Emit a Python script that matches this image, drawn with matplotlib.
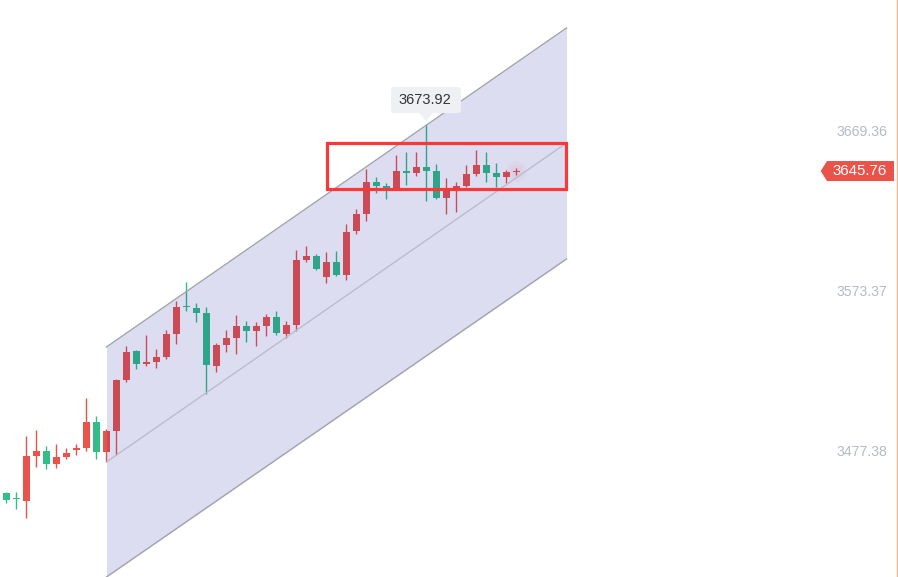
import matplotlib
matplotlib.use("Agg")
import matplotlib.pyplot as plt
from matplotlib.patches import Rectangle, Polygon, FancyBboxPatch
from matplotlib.transforms import IdentityTransform, blended_transform_factory

# OHLC (red = up, green = down)
opens = [3452.6, 3449.0, 3447.8, 3474.8, 3477.8, 3470.0, 3474.2, 3478.4, 3479.6, 3495.2,
         3477.2, 3489.8, 3520.4, 3537.8, 3530.0, 3531.2, 3534.2, 3548.0, 3564.2, 3563.6,
         3560.6, 3528.8, 3541.4, 3545.6, 3552.8, 3549.8, 3552.8, 3558.2, 3548.0, 3553.4,
         3592.4, 3594.8, 3582.2, 3591.2, 3583.4, 3609.8, 3620.0, 3639.2, 3636.8, 3635.0,
         3645.8, 3644.6, 3648.2, 3645.8, 3629.6, 3635.0, 3636.8, 3644.0, 3649.4, 3644.6,
         3642.2, 3645.2]
highs = [3453.2, 3453.2, 3486.8, 3490.4, 3480.8, 3482.0, 3479.6, 3482.0, 3509.6, 3498.8,
         3491.0, 3521.0, 3540.8, 3538.4, 3547.4, 3539.0, 3550.4, 3567.8, 3579.2, 3566.6,
         3564.2, 3542.6, 3550.4, 3559.4, 3556.0, 3555.2, 3560.0, 3561.8, 3555.8, 3598.4,
         3600.8, 3596.0, 3597.2, 3597.8, 3614.0, 3623.0, 3647.0, 3642.2, 3638.6, 3655.4,
         3657.2, 3657.2, 3673.92, 3650.0, 3641.6, 3639.2, 3649.4, 3658.4, 3657.2, 3650.6,
         3646.4, 3647.6]
lows = [3446.6, 3443.0, 3437.6, 3468.2, 3467.0, 3467.6, 3473.0, 3475.4, 3477.8, 3473.0,
        3471.2, 3475.4, 3519.2, 3527.0, 3528.8, 3527.6, 3533.0, 3542.0, 3561.8, 3555.2,
        3512.0, 3525.2, 3537.2, 3536.0, 3543.2, 3540.8, 3546.8, 3547.4, 3545.6, 3549.8,
        3591.2, 3586.4, 3578.6, 3582.8, 3580.4, 3608.0, 3615.8, 3632.6, 3629.0, 3634.4,
        3637.4, 3642.8, 3627.8, 3629.0, 3620.0, 3621.2, 3636.2, 3642.8, 3639.2, 3636.2,
        3638.6, 3643.4]
closes = [3448.4, 3448.7, 3474.8, 3477.8, 3470.0, 3474.2, 3476.6, 3479.6, 3495.2, 3477.2,
          3489.8, 3520.4, 3537.2, 3530.0, 3531.2, 3534.2, 3548.0, 3564.2, 3563.9, 3560.6,
          3529.4, 3541.4, 3545.6, 3552.8, 3549.8, 3552.8, 3558.2, 3548.6, 3553.4, 3592.4,
          3594.8, 3587.0, 3591.2, 3583.4, 3609.2, 3620.0, 3639.2, 3636.8, 3635.6, 3645.8,
          3644.6, 3648.2, 3645.8, 3629.6, 3634.4, 3636.8, 3644.0, 3649.4, 3644.6, 3642.2,
          3645.2, 3645.76]

# parallel channel (bar index, price)
channel_x = [10, 56]
channel_upper = [3540.2, 3731.6]
channel_mid = [3471.2, 3662.6]
channel_lower = [3402.2, 3593.0]

# highlighted zone
zone_x = [32.05, 55.95]
zone_y = [3634.9, 3662.3]

axis_ticks = [3477.38, 3573.37, 3669.36]
last_price = 3645.76
peak_price = 3673.92

up_color = "#e9534a"
down_color = "#33bd87"

fig = plt.figure(figsize=(8.98, 5.77), dpi=100)
ax = fig.add_axes([0, 0, 1, 1])
ax.set_xlim(-0.65, 89.15)
ax.set_ylim(3402.18, 3748.38)
ax.axis("off")

for i in range(len(opens)):
    o, h, l, c = opens[i], highs[i], lows[i], closes[i]
    col = up_color if c >= o else down_color
    ax.vlines(i, l, h, color=col, lw=1.0, zorder=2)
    bottom = min(o, c)
    height = max(abs(c - o), 0.8)
    ax.bar(i, height, bottom=bottom, width=0.7, color=col, zorder=3, linewidth=0)

# faint glow on the last candle
last_i = len(closes) - 1
ax.scatter([last_i], [last_price], s=220, color="#f07070", alpha=0.05, lw=0, zorder=4)
ax.scatter([last_i], [last_price], s=90, color="#f07070", alpha=0.06, lw=0, zorder=4)

# channel
ax.fill_between(channel_x, channel_lower, channel_upper, color="#1414a0",
                alpha=0.14, lw=0, zorder=5)
ax.plot(channel_x, channel_upper, color="#a2a2aa", lw=1.0, zorder=6)
ax.plot(channel_x, channel_lower, color="#a2a2aa", lw=1.0, zorder=6)
ax.plot(channel_x, channel_mid, color="#bcbccc", lw=1.0, zorder=6)

ax.add_patch(Rectangle((zone_x[0], zone_y[0]), zone_x[1] - zone_x[0], zone_y[1] - zone_y[0],
                       fill=False, edgecolor="#fb3838", lw=2.3, zorder=7))

# right axis labels
tr = blended_transform_factory(ax.transAxes, ax.transData)
for v in axis_ticks:
    ax.text(0.988, v, f"{v:.2f}", transform=tr, ha="right", va="center",
            fontsize=10.2, color="#b6bac5", family="Liberation Sans")

ax.axvline(89.15 - 0.1, color="#f4b48a", lw=1.0)

# last price tag
tag = Polygon([(0.9139, last_price), (0.9210, last_price + 6), (0.9955, last_price + 6),
               (0.9955, last_price - 6), (0.9210, last_price - 6)],
              closed=True, transform=tr, facecolor="#e9534a", edgecolor="none", zorder=8)
ax.add_patch(tag)
ax.text(0.9575, last_price, f"{last_price:.2f}", transform=tr, ha="center", va="center",
        fontsize=10.8, color="white", family="Liberation Sans", zorder=9)

# peak tooltip
ident = IdentityTransform()
box = FancyBboxPatch((391, 464), 70, 26, boxstyle="round,pad=0,rounding_size=3",
                     transform=ident, facecolor="#eef0f3", edgecolor="none", zorder=9)
fig.patches.append(box)
fig.patches.append(Polygon([(419, 464.5), (433, 464.5), (426, 456)], closed=True,
                           transform=ident, facecolor="#eef0f3", edgecolor="none", zorder=9))
fig.text(425 / 898, 477 / 577, f"{peak_price:.2f}", ha="center", va="center",
         fontsize=10.5, color="#333333", family="Liberation Sans", zorder=10)

fig.savefig("out.png", dpi=100)
